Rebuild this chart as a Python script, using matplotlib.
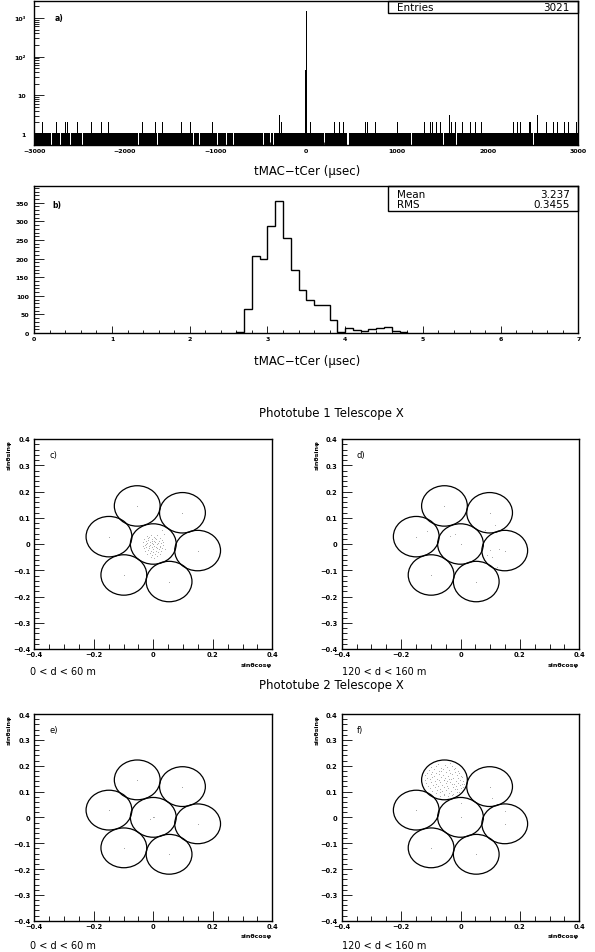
import numpy as np
import matplotlib.pyplot as plt
from matplotlib.patches import Circle, Rectangle
from matplotlib.ticker import MultipleLocator, FixedLocator, FixedFormatter, LogLocator, NullFormatter

plt.rcParams['font.family'] = ['DejaVu Sans']

W, H = 595, 953

# ---- panel a) : tMAC - tCer, wide window, 10 usec bins, mostly 1 entry/bin
a_lo, a_hi, a_bw = -3000, 3000, 10
a_twos = [-2901, -2753, -2658, -2636, -2526, -2367, -2257, -2190, -1805, -1735,
          -1669, -1588, -1375, -1275, -1040, -668, -272, -235, 41, 316, 364, 419,
          655, 677, 721, 769, 1008, 1309, 1364, 1394, 1438, 1482, 1603, 1640, 1725,
          1813, 1868, 1934, 2018, 2287, 2320, 2368, 2460, 2478, 2640, 2724, 2779,
          2845, 2897, 2982]
a_threes = [-298, 1574, 2541]
a_zeros = [-2816, -2717, -2606, -2595, -2467, -1853, -1650, -1246, -1173, -971,
           -886, -878, -805, -474, -400, -364, 206, 456, 463, 1162, 1511, 1658,
           2228, 2503]
a_peak_pos = [-5, 5]
a_peak_val = [45, 1500]
a_entries = 3021

# ---- panel b) : zoom on the peak, 0.1 usec bins
b_edges = [2.6, 2.7, 2.8, 2.9, 3.0, 3.1, 3.2, 3.3, 3.4, 3.5, 3.6, 3.7, 3.8, 3.9,
           4.0, 4.1, 4.2, 4.3, 4.4, 4.5, 4.6, 4.7, 4.8]
b_counts = [3, 65, 206, 199, 288, 356, 255, 168, 115, 88, 76, 76, 34, 4,
            13, 8, 6, 11, 14, 15, 6, 2]
b_mean = "3.237"
b_rms = "0.3455"

# ---- camera: 7 phototubes
tube_x = [0.0, -0.054, 0.098, -0.149, 0.149, -0.099, 0.053]
tube_y = [0.0, 0.145, 0.119, 0.028, -0.025, -0.118, -0.143]
tube_r = 0.077

# c) tube 1, 0<d<60 : spot in central tube
c_x = [-0.030, -0.022, -0.015, -0.008, 0.004, 0.012, 0.021, 0.028, -0.034, -0.025,
       -0.017, -0.006, 0.002, 0.010, 0.018, 0.026, 0.033, -0.029, -0.020, -0.012,
       -0.003, 0.006, 0.014, 0.022, 0.030, -0.032, -0.024, -0.014, -0.005, 0.003,
       0.011, 0.019, 0.027, -0.027, -0.018, -0.009, 0.000, 0.008, 0.016, 0.024,
       -0.021, -0.012, -0.003, 0.005, 0.013, -0.008, 0.002, -0.019, 0.007, -0.011,
       0.017, -0.001, 0.023, -0.026, 0.031, -0.036, 0.038, -0.015, 0.009, -0.004,
       0.030, 0.036]
c_y = [0.020, 0.031, 0.025, 0.034, 0.028, 0.033, 0.024, 0.015, 0.008, 0.012,
       0.016, 0.018, 0.012, 0.019, 0.010, 0.004, -0.002, -0.004, 0.002, 0.006,
       0.003, 0.006, -0.001, -0.008, -0.014, -0.016, -0.011, -0.008, -0.012, -0.006,
       -0.014, -0.019, -0.025, -0.027, -0.022, -0.025, -0.020, -0.028, -0.031, -0.037,
       -0.038, -0.035, -0.041, -0.037, -0.045, -0.048, -0.052, 0.022, 0.024, -0.002,
       0.004, -0.030, -0.013, 0.001, 0.008, -0.008, -0.020, -0.015, -0.010, 0.010,
       0.052, 0.040]
# d) tube 1, 120<d<160 : few scattered photons
d_x = [-0.114, -0.035, 0.083, 0.116, 0.099, 0.106, 0.122, 0.088, 0.130, -0.020]
d_y = [0.051, 0.030, 0.055, 0.072, -0.024, -0.050, -0.086, -0.040, -0.018, 0.040]
# e) tube 2, 0<d<60
e_x = [-0.010, 0.004]
e_y = [-0.006, 0.001]
# f) tube 2, 120<d<160 : spot in upper-left tube
f_x = [-0.075, -0.052, -0.036, -0.098, -0.081, -0.064, -0.047, -0.028, -0.017,
       -0.105, -0.090, -0.071, -0.058, -0.040, -0.022, -0.008, -0.112, -0.097,
       -0.083, -0.066, -0.049, -0.035, -0.019, -0.004, -0.118, -0.101, -0.088,
       -0.073, -0.060, -0.043, -0.027, -0.012, 0.002, -0.114, -0.095, -0.079,
       -0.066, -0.053, -0.038, -0.024, -0.009, 0.006, -0.121, -0.104, -0.086,
       -0.071, -0.057, -0.045, -0.031, -0.016, -0.002, 0.008, -0.116, -0.099,
       -0.082, -0.068, -0.050, -0.036, -0.021, -0.007, 0.005, -0.110, -0.093,
       -0.077, -0.062, -0.046, -0.030, -0.015, -0.001, 0.009, -0.104, -0.086,
       -0.070, -0.055, -0.041, -0.026, -0.011, 0.003, -0.095, -0.078, -0.063,
       -0.048, -0.033, -0.019, -0.006, -0.084, -0.068, -0.054, -0.040, -0.025,
       -0.012, -0.070, -0.055, -0.041, -0.028, 0.000, 0.105, 0.150, 0.012]
f_y = [0.207, 0.203, 0.209, 0.193, 0.198, 0.191, 0.196, 0.199, 0.190,
       0.183, 0.188, 0.181, 0.186, 0.184, 0.189, 0.180, 0.172, 0.177,
       0.171, 0.178, 0.174, 0.170, 0.176, 0.173, 0.163, 0.167, 0.161,
       0.168, 0.164, 0.160, 0.166, 0.162, 0.159, 0.152, 0.157, 0.150,
       0.156, 0.153, 0.149, 0.154, 0.151, 0.155, 0.143, 0.147, 0.141,
       0.146, 0.144, 0.139, 0.148, 0.142, 0.145, 0.140, 0.133, 0.137,
       0.131, 0.136, 0.132, 0.138, 0.130, 0.134, 0.129, 0.123, 0.127,
       0.121, 0.126, 0.122, 0.128, 0.120, 0.124, 0.119, 0.113, 0.117,
       0.111, 0.116, 0.112, 0.118, 0.110, 0.114, 0.103, 0.107, 0.101,
       0.106, 0.102, 0.108, 0.100, 0.093, 0.097, 0.091, 0.096, 0.092,
       0.098, 0.083, 0.087, 0.081, 0.086, 0.055, 0.075, 0.025, 0.130]


def box(left, top, right, bottom):
    return [left / W, 1 - bottom / H, (right - left) / W, (bottom - top) / H]


fig = plt.figure(figsize=(W / 100, H / 100), dpi=100)

# ================= a) =================
ax = fig.add_axes(box(34.3, 2, 578.3, 146))
edges = np.arange(a_lo, a_hi + a_bw, a_bw)
counts = np.ones(len(edges) - 1)
for v in a_twos:
    counts[int((v - a_lo) // a_bw)] = 2
for v in a_threes:
    counts[int((v - a_lo) // a_bw)] = 3
for v in a_zeros:
    counts[int((v - a_lo) // a_bw)] = 0
for p, v in zip(a_peak_pos, a_peak_val):
    counts[int((p - a_lo) // a_bw)] = v
ax.bar(edges[:-1], counts, width=a_bw, align='edge', bottom=0.05, color='k', linewidth=0)
ax.set_yscale('log')
ax.set_xlim(a_lo, a_hi)
ax.set_ylim(0.52, 2730)
ax.yaxis.set_major_locator(FixedLocator([1, 10, 100, 1000]))
ax.yaxis.set_major_formatter(FixedFormatter(['1', '10', '10²', '10³']))
ax.yaxis.set_minor_locator(LogLocator(base=10, subs=np.arange(2, 10)))
ax.yaxis.set_minor_formatter(NullFormatter())
ax.set_xticks([-3000, -2000, -1000, 0, 1000, 2000, 3000])
ax.set_xticklabels(['−3000', '−2000', '−1000', '0', '1000', '2000', '3000'])
ax.xaxis.set_minor_locator(MultipleLocator(200))
ax.tick_params(which='both', direction='in', top=False, right=False, labelsize=4.5, width=0.6)
ax.tick_params(axis='y', which='major', length=7.5, pad=6)
ax.tick_params(axis='y', which='minor', length=3.5)
ax.tick_params(axis='x', which='major', length=5, pad=2)
ax.tick_params(axis='x', which='minor', length=2.5)
for lab in ax.get_xticklabels() + ax.get_yticklabels():
    lab.set_fontweight('bold')
for s in ax.spines.values():
    s.set_linewidth(1.0)
ax.text(0.038, 0.87, 'a)', transform=ax.transAxes, fontsize=5.5, fontweight='bold')
fig.text(307 / W, 1 - 172 / H, 'tMAC−tCer (μsec)', ha='center', va='center', fontsize=8.5)

fig.add_artist(Rectangle((388 / W, 1 - 14 / H), 190 / W, 12 / H, transform=fig.transFigure,
                         fill=False, ec='k', lw=1.0))
fig.text(397 / W, 1 - 8 / H, 'Entries', ha='left', va='center', fontsize=7.5)
fig.text(570 / W, 1 - 8 / H, str(a_entries), ha='right', va='center', fontsize=7.5)

# ================= b) =================
ax = fig.add_axes(box(34.3, 187, 578.3, 334))
ax.stairs(b_counts, b_edges, color='k', lw=1.0, baseline=0)
ax.set_xlim(0, 7)
ax.set_ylim(0, 395)
ax.xaxis.set_major_locator(MultipleLocator(1))
ax.xaxis.set_minor_locator(MultipleLocator(0.2))
ax.yaxis.set_major_locator(MultipleLocator(50))
ax.yaxis.set_minor_locator(MultipleLocator(10))
ax.tick_params(which='both', direction='in', top=False, right=False, labelsize=4.5, width=0.6)
ax.tick_params(axis='y', which='major', length=7.5, pad=4)
ax.tick_params(axis='y', which='minor', length=3.5)
ax.tick_params(axis='x', which='major', length=5, pad=2)
ax.tick_params(axis='x', which='minor', length=2.5)
for lab in ax.get_xticklabels() + ax.get_yticklabels():
    lab.set_fontweight('bold')
for s in ax.spines.values():
    s.set_linewidth(1.0)
ax.text(0.033, 0.855, 'b)', transform=ax.transAxes, fontsize=5.5, fontweight='bold')
fig.text(307 / W, 1 - 362 / H, 'tMAC−tCer (μsec)', ha='center', va='center', fontsize=8.5)

fig.add_artist(Rectangle((388 / W, 1 - 212 / H), 190 / W, 25 / H, transform=fig.transFigure,
                         fill=False, ec='k', lw=1.0))
fig.text(397 / W, 1 - 194.5 / H, 'Mean', ha='left', va='center', fontsize=7.5)
fig.text(570 / W, 1 - 194.5 / H, b_mean, ha='right', va='center', fontsize=7.5)
fig.text(397 / W, 1 - 205.5 / H, 'RMS', ha='left', va='center', fontsize=7.5)
fig.text(570 / W, 1 - 205.5 / H, b_rms, ha='right', va='center', fontsize=7.5)

# ================= c) - f) =================
fig.text(331 / W, 1 - 414 / H, 'Phototube 1 Telescope X', ha='center', va='center', fontsize=8.5)
fig.text(331 / W, 1 - 686 / H, 'Phototube 2 Telescope X', ha='center', va='center', fontsize=8.5)

panels = [
    ('c)', box(34.3, 440, 272.3, 650), c_x, c_y, '0 < d < 60 m', 30, 672),
    ('d)', box(341.7, 440, 579.3, 650), d_x, d_y, '120 < d < 160 m', 342, 672),
    ('e)', box(34.3, 715, 272.3, 921.7), e_x, e_y, '0 < d < 60 m', 30, 946),
    ('f)', box(341.7, 715, 579.3, 921.7), f_x, f_y, '120 < d < 160 m', 342, 946),
]
for tag, rect, px, py, dlab, lx, ly in panels:
    ax = fig.add_axes(rect)
    for x0, y0 in zip(tube_x, tube_y):
        ax.add_patch(Circle((x0, y0), tube_r, fill=False, ec='k', lw=0.9))
    ax.scatter(tube_x, tube_y, s=0.3, c='0.5', linewidths=0)
    ax.scatter(px, py, s=0.35, c='0.6', linewidths=0)
    ax.set_xlim(-0.4, 0.4)
    ax.set_ylim(-0.4, 0.4)
    ax.xaxis.set_major_locator(FixedLocator([-0.4, -0.2, 0, 0.2, 0.4]))
    ax.xaxis.set_major_formatter(FixedFormatter(['−0.4', '−0.2', '0', '0.2', '0.4']))
    ax.xaxis.set_minor_locator(MultipleLocator(0.05))
    ax.yaxis.set_major_locator(FixedLocator([-0.4, -0.3, -0.2, -0.1, 0, 0.1, 0.2, 0.3, 0.4]))
    ax.yaxis.set_major_formatter(FixedFormatter(['−0.4', '−0.3', '−0.2', '−0.1', '0',
                                                 '0.1', '0.2', '0.3', '0.4']))
    ax.yaxis.set_minor_locator(MultipleLocator(0.02))
    ax.tick_params(which='both', direction='in', top=False, right=False, labelsize=4.8, width=0.6)
    ax.tick_params(axis='y', which='major', length=7.5, pad=3)
    ax.tick_params(axis='y', which='minor', length=3.5)
    ax.tick_params(axis='x', which='major', length=7, pad=1.5)
    ax.tick_params(axis='x', which='minor', length=3.5)
    for lab in ax.get_xticklabels() + ax.get_yticklabels():
        lab.set_fontweight('bold')
    for s in ax.spines.values():
        s.set_linewidth(1.0)
    ax.text(0.063, 0.925, tag, transform=ax.transAxes, fontsize=6, va='center')
    ax.text(1.0, -0.06, 'sinθcosφ', transform=ax.transAxes, ha='right', va='top',
            fontsize=4.5, fontweight='bold')
    ax.text(-0.105, 1.0, 'sinθsinφ', transform=ax.transAxes, ha='center', va='top',
            rotation=90, fontsize=4.5, fontweight='bold')
    fig.text(lx / W, 1 - ly / H, dlab, ha='left', va='center', fontsize=7)

fig.savefig('out.png', dpi=100)
